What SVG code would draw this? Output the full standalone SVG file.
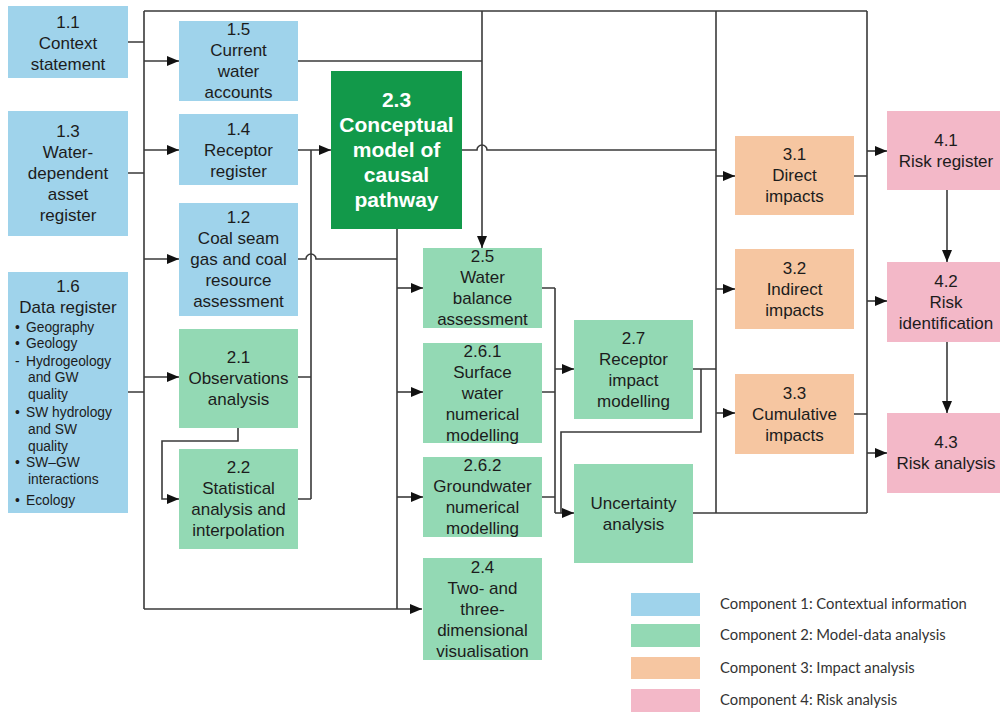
<svg xmlns="http://www.w3.org/2000/svg" width="1000" height="713" viewBox="0 0 1000 713">
<style>
.b{fill:#9fd3eb}.g{fill:#93d9b4}.o{fill:#f6c6a1}.p{fill:#f3b8c8}.dg{fill:#12994a}
text{font-family:"Liberation Sans",Arial,sans-serif;font-size:17px;fill:#1c1c1c;text-anchor:middle}
.w{fill:#fff;font-weight:bold;font-size:21px}
.s{font-size:13.8px;text-anchor:start}
.lg{font-family:Lato,"Open Sans",sans-serif;font-size:14.8px;fill:#333;text-anchor:start}
.c path{fill:none;stroke:#3a3a3a;stroke-width:1.6}
.a{marker-end:url(#ar)}
</style>
<defs>
<marker id="ar" markerUnits="userSpaceOnUse" markerWidth="12" markerHeight="10" refX="12" refY="5" orient="auto"><path d="M0,0 L12,5 L0,10 z" fill="#111"/></marker>
</defs>
<g class="c" id="connectors">
<path d="M144,11 V609 M144,11 H867"/>
<path d="M128,42 H144 M128,173 H144 M128,392 H144"/>
<path class="a" d="M144,61 H179"/>
<path class="a" d="M144,150 H179"/>
<path class="a" d="M144,259 H179"/>
<path class="a" d="M144,377 H179"/>
<path class="a" d="M144,609 H422"/>
<path d="M298,61 H482"/>
<path class="a" d="M482,11 V248"/>
<path class="a" d="M298,150 H331"/>
<path d="M311,150 V499 M298,377 H311 M298,499 H311"/>
<path d="M298,259 H306 A5,5 0 0 1 316,259 H397"/>
<path d="M397,229 V609"/>
<path class="a" d="M397,288 H423"/>
<path class="a" d="M397,392 H423"/>
<path class="a" d="M397,497 H423"/>
<path class="a" d="M238,428 V441 H162 V499 H179"/>
<path d="M462,150 H477 A5,5 0 0 1 487,150 H716"/>
<path d="M716,11 V513"/>
<path class="a" d="M716,176 H735"/>
<path class="a" d="M716,289 H735"/>
<path class="a" d="M716,413 H735"/>
<path d="M867,11 V513 M854,176 H867 M854,414 H867"/>
<path class="a" d="M867,151 H887"/>
<path class="a" d="M867,301 H887"/>
<path class="a" d="M867,453 H887"/>
<path class="a" d="M947,190 V262"/>
<path class="a" d="M947,342 V413"/>
<path d="M542,288 H555 M542,392 H555 M542,497 H555 M555,288 V513"/>
<path class="a" d="M555,369 H574"/>
<path class="a" d="M555,513 H574"/>
<path d="M693,369 H716 M701,369 V432 H561 V513"/>
<path d="M693,513 H867"/>
</g>
<g id="n1_1"><rect class="b" x="8" y="6" width="120" height="72"/><text x="68" y="28">1.1</text><text x="68" y="49">Context</text><text x="68" y="70">statement</text></g>
<g id="n1_3"><rect class="b" x="8" y="111" width="120" height="125"/><text x="68" y="137">1.3</text><text x="68" y="158">Water-</text><text x="68" y="179">dependent</text><text x="68" y="200">asset</text><text x="68" y="221">register</text></g>
<g id="n1_6"><rect class="b" x="8" y="272" width="120" height="241"/><text x="68" y="292">1.6</text><text x="68" y="313">Data register</text>
<text class="s" x="15" y="332">•</text><text class="s" x="26" y="332">Geography</text>
<text class="s" x="15" y="348">•</text><text class="s" x="26" y="348">Geology</text>
<text class="s" x="15" y="366">-</text><text class="s" x="26" y="366">Hydrogeology</text>
<text class="s" x="28" y="382">and GW</text><text class="s" x="28" y="399">quality</text>
<text class="s" x="15" y="417">•</text><text class="s" x="26" y="417">SW hydrology</text>
<text class="s" x="28" y="434">and SW</text><text class="s" x="28" y="451">quality</text>
<text class="s" x="15" y="467">•</text><text class="s" x="26" y="467">SW–GW</text>
<text class="s" x="28" y="484">interactions</text>
<text class="s" x="15" y="505">•</text><text class="s" x="26" y="505">Ecology</text></g>
<g id="n1_5"><rect class="b" x="179" y="21" width="119" height="80"/><text x="238.5" y="35">1.5</text><text x="238.5" y="56">Current</text><text x="238.5" y="77">water</text><text x="238.5" y="98">accounts</text></g>
<g id="n1_4"><rect class="b" x="179" y="114" width="119" height="71"/><text x="238.5" y="135">1.4</text><text x="238.5" y="156">Receptor</text><text x="238.5" y="177">register</text></g>
<g id="n1_2"><rect class="b" x="179" y="203" width="119" height="113"/><text x="238.5" y="223">1.2</text><text x="238.5" y="244">Coal seam</text><text x="238.5" y="265">gas and coal</text><text x="238.5" y="286">resource</text><text x="238.5" y="307">assessment</text></g>
<g id="n2_1"><rect class="g" x="179" y="329" width="119" height="99"/><text x="238.5" y="363">2.1</text><text x="238.5" y="384">Observations</text><text x="238.5" y="405">analysis</text></g>
<g id="n2_2"><rect class="g" x="179" y="449" width="119" height="100"/><text x="238.5" y="473">2.2</text><text x="238.5" y="494">Statistical</text><text x="238.5" y="515">analysis and</text><text x="238.5" y="536">interpolation</text></g>
<g id="n2_3"><rect class="dg" x="331" y="71" width="131" height="158"/><text class="w" x="396.5" y="107">2.3</text><text class="w" x="396.5" y="132">Conceptual</text><text class="w" x="396.5" y="157">model of</text><text class="w" x="396.5" y="182">causal</text><text class="w" x="396.5" y="207">pathway</text></g>
<g id="n2_5"><rect class="g" x="423" y="248" width="119" height="80"/><text x="482.5" y="262">2.5</text><text x="482.5" y="283">Water</text><text x="482.5" y="304">balance</text><text x="482.5" y="325">assessment</text></g>
<g id="n2_6_1"><rect class="g" x="423" y="343" width="119" height="100"/><text x="482.5" y="357">2.6.1</text><text x="482.5" y="378">Surface</text><text x="482.5" y="399">water</text><text x="482.5" y="420">numerical</text><text x="482.5" y="441">modelling</text></g>
<g id="n2_6_2"><rect class="g" x="423" y="457" width="119" height="80"/><text x="482.5" y="471">2.6.2</text><text x="482.5" y="492">Groundwater</text><text x="482.5" y="513">numerical</text><text x="482.5" y="534">modelling</text></g>
<g id="n2_4"><rect class="g" x="423" y="558" width="119" height="102"/><text x="482.5" y="573">2.4</text><text x="482.5" y="594">Two- and</text><text x="482.5" y="615">three-</text><text x="482.5" y="636">dimensional</text><text x="482.5" y="657">visualisation</text></g>
<g id="n2_7"><rect class="g" x="574" y="320" width="119" height="99"/><text x="633.5" y="344">2.7</text><text x="633.5" y="365">Receptor</text><text x="633.5" y="386">impact</text><text x="633.5" y="407">modelling</text></g>
<g id="n_unc"><rect class="g" x="574" y="464" width="119" height="99"/><text x="633.5" y="509">Uncertainty</text><text x="633.5" y="530">analysis</text></g>
<g id="n3_1"><rect class="o" x="735" y="136" width="119" height="79"/><text x="794.5" y="160">3.1</text><text x="794.5" y="181">Direct</text><text x="794.5" y="202">impacts</text></g>
<g id="n3_2"><rect class="o" x="735" y="249" width="119" height="80"/><text x="794.5" y="274">3.2</text><text x="794.5" y="295">Indirect</text><text x="794.5" y="316">impacts</text></g>
<g id="n3_3"><rect class="o" x="735" y="374" width="119" height="80"/><text x="794.5" y="399">3.3</text><text x="794.5" y="420">Cumulative</text><text x="794.5" y="441">impacts</text></g>
<g id="n4_1"><rect class="p" x="887" y="111" width="118" height="79"/><text x="946" y="146">4.1</text><text x="946" y="167">Risk register</text></g>
<g id="n4_2"><rect class="p" x="887" y="262" width="118" height="80"/><text x="946" y="287">4.2</text><text x="946" y="308">Risk</text><text x="946" y="329">identification</text></g>
<g id="n4_3"><rect class="p" x="887" y="413" width="118" height="80"/><text x="946" y="448">4.3</text><text x="946" y="469">Risk analysis</text></g>
<g id="legend">
<rect class="b" x="631" y="593" width="69" height="23"/><text class="lg" x="720" y="609">Component 1: Contextual information</text>
<rect class="g" x="631" y="624" width="69" height="23"/><text class="lg" x="720" y="640">Component 2: Model-data analysis</text>
<rect class="o" x="631" y="657" width="69" height="22"/><text class="lg" x="720" y="673">Component 3: Impact analysis</text>
<rect class="p" x="631" y="689" width="69" height="23"/><text class="lg" x="720" y="705">Component 4: Risk analysis</text>
</g>
</svg>
